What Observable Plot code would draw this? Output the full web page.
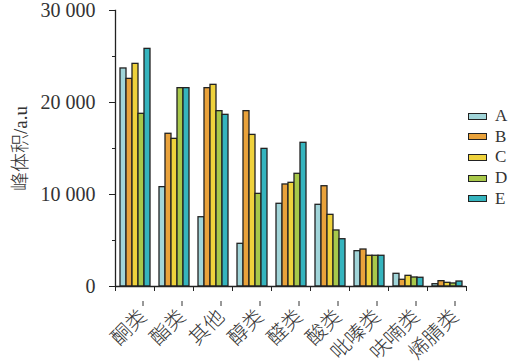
<!DOCTYPE html>
<html><head><meta charset="utf-8">
<script src="https://cdn.jsdelivr.net/npm/d3@7"></script>
<script src="https://cdn.jsdelivr.net/npm/@observablehq/plot@0.6"></script>
<style>
body{margin:0;background:#fff;}
#wrap{position:relative;width:511px;height:364px;}
.leg{position:absolute;left:468px;height:20px;font-family:"Liberation Serif",serif;font-size:17px;color:#333;display:flex;align-items:center;}
.sw{width:17px;height:5px;border:1.4px solid #222;margin-right:8px;}
</style></head><body><div id="wrap"></div>
<script>
const categories = ["酮类","酯类","其他","醇类","醛类","酸类","吡嗪类","呋喃类","烯腈类"];
const seriesNames = ["A","B","C","D","E"];
const A = [23700,10800,7530,4640,8990,8880,3840,1380,250];
const B = [22570,16600,21560,19060,11090,10900,4020,730,580];
const C = [24200,16050,21920,16480,11270,7790,3340,1160,400];
const D = [18770,21560,19060,10070,12250,6090,3340,980,330];
const E = [25830,21560,18660,14960,15620,5140,3340,950,540];
const colors = ["#a1d5d9","#e9a23b","#efd23c","#a8c84a","#35b4be"];
const yTicks = [0,10000,20000,30000];
const yMinor = [5000,15000,25000];
const yLabel = "峰体积/a.u";

const seriesValues = [A,B,C,D,E];
const data = [];
categories.forEach((c,i)=>seriesNames.forEach((s,j)=>data.push({cat:c, series:s, value:seriesValues[j][i]})));
const fmt = d => d3.format(",")(d).replace(/,/g," ");

const serif = '"Liberation Serif", "Noto Sans CJK SC", serif';
const chart = Plot.plot({
  width: 511, height: 364,
  marginLeft: 113, marginRight: 44, marginTop: 10, marginBottom: 78,
  style: {fontFamily: serif, background: "#fff", color: "#333"},
  fx: {domain: categories, padding: 0},
  x: {domain: seriesNames, paddingInner: 0, paddingOuter: 0.55, axis: null},
  y: {domain: [0, 30000]},
  color: {domain: seriesNames, range: colors},
  marks: [
    Plot.barY(data, {fx: "cat", x: "series", y: "value", fill: "series", stroke: "#222", strokeWidth: 1.3}),
    Plot.ruleY([0], {stroke: "#222", strokeWidth: 1.3}),
    Plot.frame({anchor: "left", facetAnchor: "left", stroke: "#222", strokeWidth: 1.3}),
    Plot.frame({anchor: "left", insetTop: 276, insetBottom: -4, stroke: "#222"}),
    Plot.frame({anchor: "right", facetAnchor: "right", insetTop: 276, insetBottom: -4, stroke: "#222"}),
    Plot.axisY({ticks: yTicks, tickFormat: fmt, tickSize: 6, tickPadding: 14, fontSize: 20, label: null, stroke: "#222"}),
    Plot.axisY({ticks: yMinor, tickFormat: () => "", tickSize: 3, label: null, stroke: "#222"}),
    Plot.axisY({ticks: [], label: yLabel, labelAnchor: "center", labelArrow: "none", labelOffset: 102, fontSize: 19, fontWeight: 300}),
    Plot.axisFx({anchor: "bottom", tickRotate: -45, tickSize: 5, fontSize: 20, fontWeight: 300, label: null, textAnchor: "end", dx: 8, dy: 15, fontFamily: '"Noto Sans CJK SC", sans-serif'})
  ]
});
const wrap = document.getElementById("wrap");
wrap.appendChild(chart);
const rowTop = [106, 126.6, 147.3, 168, 188.6];
seriesNames.forEach((s,i)=>{
  const d = document.createElement("div");
  d.className = "leg";
  d.style.top = rowTop[i] + "px";
  d.innerHTML = `<span class="sw" style="background:${colors[i]}"></span><span>${s}</span>`;
  wrap.appendChild(d);
});
</script></body></html>
